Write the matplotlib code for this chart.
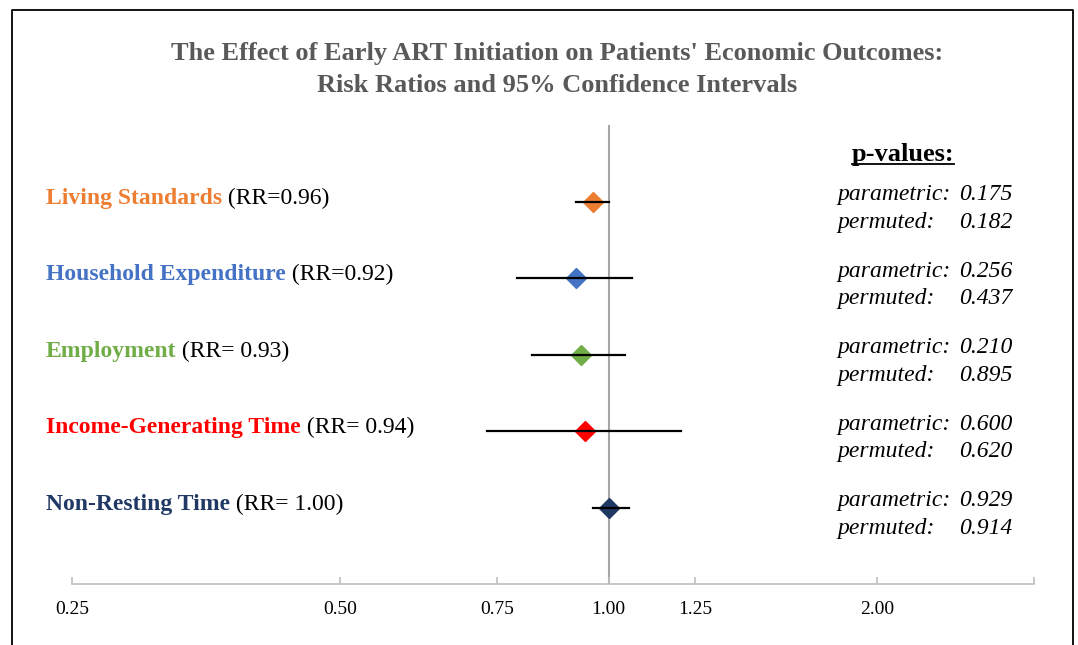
import numpy as np
import matplotlib.pyplot as plt
import matplotlib.transforms as mtransforms
from matplotlib.lines import Line2D

plt.rcParams['font.family'] = ['Liberation Serif', 'DejaVu Serif']

# dati: rischi relativi e intervalli di confidenza al 95%
outcomes = ['Living Standards', 'Household Expenditure', 'Employment',
            'Income-Generating Time', 'Non-Resting Time']
rr_text = ['(RR=0.96)', '(RR=0.92)', '(RR= 0.93)', '(RR= 0.94)', '(RR= 1.00)']
rr = [0.96, 0.92, 0.93, 0.94, 1.00]
ci_low = [0.92, 0.79, 0.82, 0.73, 0.96]
ci_high = [1.00, 1.063, 1.043, 1.204, 1.053]
colors = ['#ED7D31', '#4472C4', '#70AD47', '#FF0000', '#1F3864']

p_param = ['0.175', '0.256', '0.210', '0.600', '0.929']
p_perm = ['0.182', '0.437', '0.895', '0.620', '0.914']

xticks = [0.25, 0.5, 0.75, 1.0, 1.25, 2.0, 3.0]
xticklabels = ['0.25', '0.50', '0.75', '1.00', '1.25', '2.00', '']

W, H = 1078, 645
fig = plt.figure(figsize=(W / 100, H / 100), dpi=100)
ax = fig.add_axes([72 / W, 1 - 584 / H, (1034 - 72) / W, (584 - 125) / H])

ypos = np.arange(1, len(rr) + 1)

# linea di riferimento a RR = 1
ax.axvline(1.0, color='#a6a6a6', lw=1.5, zorder=1)

for i in range(len(rr)):
    ax.plot(rr[i], ypos[i], marker='D', ms=10, color=colors[i],
            mec=colors[i], zorder=2)
    ax.plot([ci_low[i], ci_high[i]], [ypos[i], ypos[i]], color='black',
            lw=1.6, zorder=3)

ax.set_xscale('log', base=2)
ax.set_xlim(0.25, 3.0)
ax.set_ylim(6, 0)
ax.set_xticks(xticks)
ax.set_xticklabels(xticklabels)
ax.minorticks_off()
ax.set_yticks([])
for s in ['top', 'left', 'right']:
    ax.spines[s].set_visible(False)
ax.spines['bottom'].set_color('#bfbfbf')
ax.spines['bottom'].set_linewidth(1.2)
ax.tick_params(axis='x', direction='in', length=5, width=1.2,
               color='#bfbfbf', pad=12, labelsize=14)

# etichette a sinistra
trans = mtransforms.blended_transform_factory(fig.transFigure, ax.transData)
for i in range(len(rr)):
    t1 = ax.text(46 / W, ypos[i] + 0.03, outcomes[i], transform=trans,
                 fontsize=17, fontweight='bold', color=colors[i],
                 va='baseline', ha='left')
    ax.annotate(' ' + rr_text[i], xy=(1, 0), xycoords=t1, fontsize=17,
                color='black', va='bottom', ha='left')

# p-values a destra
hdr = ax.text(903 / W, 0.38, 'p-values:', transform=trans, fontsize=19,
              fontweight='bold', ha='center', va='center')
for i in range(len(rr)):
    ax.text(837 / W, ypos[i] - 0.085, 'parametric:', transform=trans,
            fontsize=17, style='italic', va='center', ha='left')
    ax.text(1012 / W, ypos[i] - 0.085, p_param[i], transform=trans,
            fontsize=17, style='italic', va='center', ha='right')
    ax.text(837 / W, ypos[i] + 0.27, 'permuted:', transform=trans,
            fontsize=17, style='italic', va='center', ha='left')
    ax.text(1012 / W, ypos[i] + 0.27, p_perm[i], transform=trans,
            fontsize=17, style='italic', va='center', ha='right')

fig.text(557 / W, 1 - 69.5 / H,
         "The Effect of Early ART Initiation on Patients' Economic Outcomes:\n"
         "Risk Ratios and 95% Confidence Intervals",
         ha='center', va='center', fontsize=19, fontweight='bold',
         color='#595959', linespacing=1.45)

# sottolineatura di "p-values:"
fig.canvas.draw()
bb = hdr.get_window_extent(fig.canvas.get_renderer())
fig.add_artist(Line2D([bb.x0 / W, bb.x1 / W], [1 - 164 / H, 1 - 164 / H],
                      transform=fig.transFigure, color='black', lw=1.3))

# cornice
fig.add_artist(Line2D([12 / W, 12 / W, 1073 / W, 1073 / W],
                      [0, 1 - 10 / H, 1 - 10 / H, 0],
                      transform=fig.transFigure, color='black', lw=1.3))

fig.savefig('out.png', dpi=100)
